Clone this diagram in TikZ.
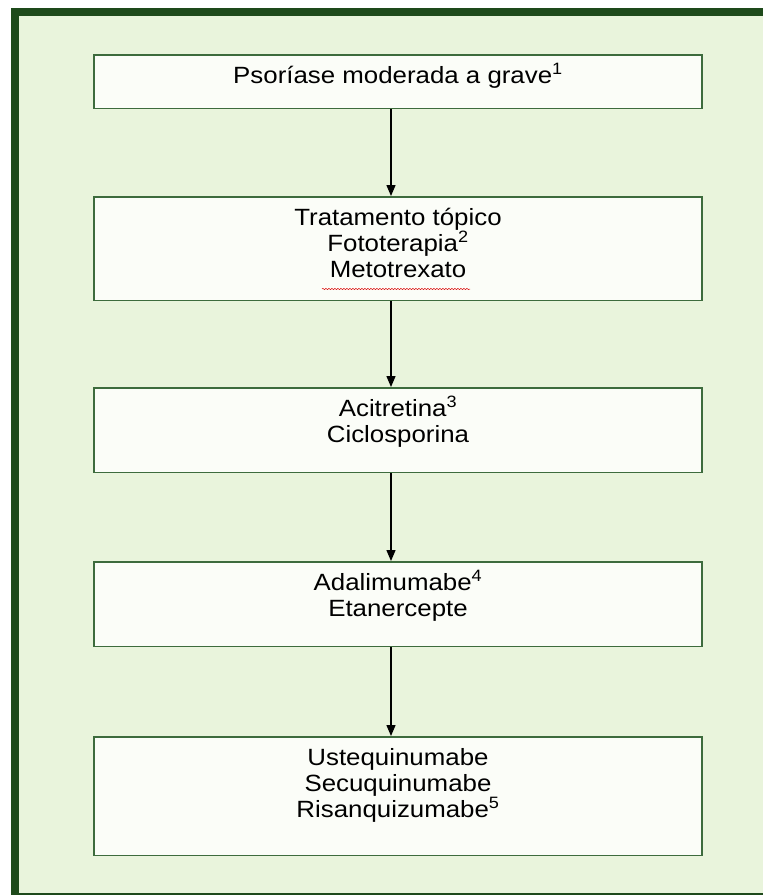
\documentclass[tikz,border=0pt]{standalone}
\usepackage{fontspec}
\setmainfont{Liberation Sans}[FakeStretch=1.1]
\usepackage{xcolor}
\usepackage{tikz}
\usetikzlibrary{
    arrows.meta,
    positioning,
    calc,
    decorations.pathmorphing
}
\definecolor{framegreen}{HTML}{1E4A1B}
\definecolor{panelgreen}{HTML}{E9F4DC}
\definecolor{boxgreen}{HTML}{3D6B3D}
\definecolor{boxfill}{HTML}{FBFDF8}
\tikzset{
    stage/.style={draw=boxgreen, fill=boxfill, line width=1.5pt,
        minimum width=608pt, inner xsep=0pt, inner ysep=0pt,
        align=center, text=black,
        font=\fontsize{23.5}{25.7}\selectfont},
    arrow/.style={-{Triangle[width=9pt,length=11pt]}, line width=1.3pt}
}

\begin{document}
\begin{tikzpicture}[x=1pt,y=1pt]
    \useasboundingbox (0,0) rectangle (763,-895);
    % panel with cropped frame
    \begin{scope}
        \clip (0,0) rectangle (763,-895);
        \draw[framegreen, fill=panelgreen, line width=8pt] (15,-12) rectangle (780,-897);
    \end{scope}
    % stages
    \node[stage, text height=29pt, text depth=24.5pt, anchor=north] (grave) at (398,-54) {Psoríase moderada a grave\textsuperscript{1}};
    \node[stage, text height=80.4pt, text depth=23.1pt, below=87pt of grave] (topico) {Tratamento tópico\\Fototerapia\textsuperscript{2}\\Metotrexato};
    \node[stage, text height=54.7pt, text depth=29.8pt, below=86pt of topico] (acitretina) {Acitretina\textsuperscript{3}\\Ciclosporina};
    \node[stage, text height=54.7pt, text depth=29.8pt, below=88pt of acitretina] (antitnf) {Adalimumabe\textsuperscript{4}\\Etanercepte};
    \node[stage, text height=80.4pt, text depth=38.1pt, below=89pt of antitnf] (anti-il) {Ustequinumabe\\Secuquinumabe\\Risanquizumabe\textsuperscript{5}};
    % spell-check mark
    \draw[red!85!black, line width=0.5pt, decorate, decoration={snake, amplitude=0.6pt, segment length=3pt}] (322,-289) -- (470,-289);
    % arrows
    \draw[arrow] ([xshift=-7pt]grave.south) -- ([xshift=-7pt]topico.north);
    \draw[arrow] ([xshift=-7pt]topico.south) -- ([xshift=-7pt]acitretina.north);
    \draw[arrow] ([xshift=-7pt]acitretina.south) -- ([xshift=-7pt]antitnf.north);
    \draw[arrow] ([xshift=-7pt]antitnf.south) -- ([xshift=-7pt]anti-il.north);
\end{tikzpicture}
\end{document}
